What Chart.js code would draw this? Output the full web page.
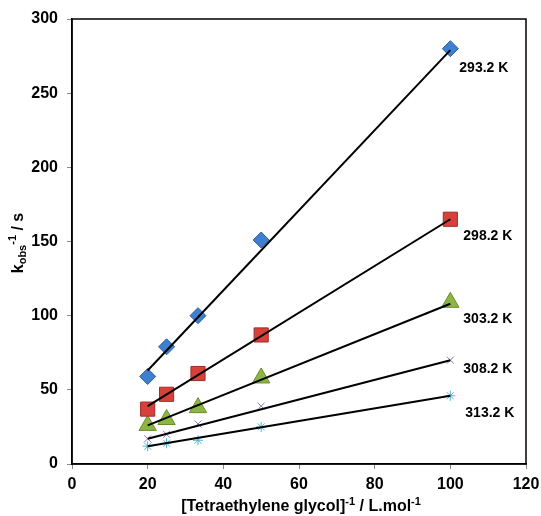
<!DOCTYPE html>
<html>
<head>
<meta charset="utf-8">
<script src="https://cdn.jsdelivr.net/npm/chart.js@4.4.1/dist/chart.umd.min.js"></script>
<style>
  html, body { margin: 0; background: #fff; }
  #wrap { width: 541px; height: 516px; }
</style>
</head>
<body>
<div id="wrap"><canvas id="kineticsChart"></canvas></div>
<script>
// [Tetraethylene glycol]^-1 values (L/mol)
const xValues = [20, 25, 33.3, 50, 100];
// 1/k_obs (s) at each temperature
const k293 = [59, 79, 100, 151, 280];
const k298 = [37, 47, 61, 87, 165];
const k303 = [26, 30, 38, 58, 109];
const k308 = [17, 20, 27, 39, 70];
const k313 = [12, 14, 16, 25, 46];
// fitted straight lines, end points
const fitX = [20, 100];
const fit293 = [63, 279];
const fit298 = [39, 165];
const fit303 = [26, 108];
const fit308 = [17, 70];
const fit313 = [12, 46];
const tempLabels = ['293.2 K', '298.2 K', '303.2 K', '308.2 K', '313.2 K'];

const FONT = 'Arial, "Liberation Sans", sans-serif';
const toPts = (xs, ys) => xs.map((x, i) => ({ x: x, y: ys[i] }));

function markerSet(data, style, fill, border, radius) {
    return {
        data: toPts(xValues, data),
        pointStyle: style,
        pointRadius: radius,
        pointHoverRadius: radius,
        backgroundColor: fill,
        borderColor: border,
        pointBorderWidth: 1,
        showLine: false,
        order: 2
    };
}

function fitSet(data) {
    return {
        data: toPts(fitX, data),
        showLine: true,
        borderColor: '#000',
        borderWidth: 2,
        pointRadius: 0,
        order: 1
    };
}

// draws text pieces with sub/superscripts, left to right from x
function drawRich(ctx, parts, x, y) {
    let cx = x;
    parts.forEach(p => {
        ctx.font = 'bold ' + p.size + 'px ' + FONT;
        ctx.fillText(p.t, cx, y + (p.dy || 0));
        cx += ctx.measureText(p.t).width;
    });
    return cx - x;
}
function richWidth(ctx, parts) {
    let w = 0;
    parts.forEach(p => {
        ctx.font = 'bold ' + p.size + 'px ' + FONT;
        w += ctx.measureText(p.t).width;
    });
    return w;
}

const extras = {
    id: 'extras',
    afterDraw(chart) {
        const { ctx, chartArea: a, scales: { x, y } } = chart;
        ctx.save();
        // frame around plot
        ctx.strokeStyle = '#000';
        ctx.lineWidth = 1.5;
        ctx.strokeRect(a.left, a.top, a.right - a.left, a.bottom - a.top);

        ctx.fillStyle = '#000';
        ctx.textBaseline = 'middle';
        ctx.textAlign = 'left';

        // temperature labels next to the last point of each series
        const lastVals = [k293, k298, k303, k308, k313].map(s => s[s.length - 1]);
        const offs = [[9, 19], [13, 17], [13, 17], [13, 9], [15, 17]];
        lastVals.forEach((v, i) => {
            const px = x.getPixelForValue(xValues[xValues.length - 1]);
            const py = y.getPixelForValue(v);
            ctx.font = 'bold 14px ' + FONT;
            ctx.fillText(tempLabels[i], px + offs[i][0], py + offs[i][1]);
        });

        // x axis title
        const xt = [
            { t: '[Tetraethylene glycol]', size: 16 },
            { t: '-1', size: 11, dy: -5 },
            { t: ' / L.mol', size: 16 },
            { t: '-1', size: 11, dy: -5 }
        ];
        const w = richWidth(ctx, xt);
        drawRich(ctx, xt, (a.left + a.right) / 2 - w / 2 + 2, 507);

        // y axis title (rotated)
        const yt = [
            { t: 'k', size: 16 },
            { t: 'obs', size: 11, dy: 4 },
            { t: '-1', size: 11, dy: -6 },
            { t: ' / s', size: 16 }
        ];
        const wy = richWidth(ctx, yt);
        ctx.translate(19, 243);
        ctx.rotate(-Math.PI / 2);
        drawRich(ctx, yt, -wy / 2, 0);
        ctx.restore();
    }
};

const tickFont = { family: FONT, size: 16, weight: 'bold' };

new Chart(document.getElementById('kineticsChart').getContext('2d'), {
    type: 'scatter',
    data: {
        datasets: [
            markerSet(k293, 'rectRot', '#3E7FCF', '#2D5E9E', 8),
            markerSet(k298, 'rect', '#D8403A', '#A02C28', 10),
            markerSet(k303, 'triangle', '#8DB543', '#6B8C30', 10),
            markerSet(k308, 'crossRot', '#8E78B8', '#8E78B8', 5),
            markerSet(k313, 'star', '#4FB8CC', '#4FB8CC', 5),
            fitSet(fit293),
            fitSet(fit298),
            fitSet(fit303),
            fitSet(fit308),
            fitSet(fit313)
        ]
    },
    options: {
        responsive: true,
        maintainAspectRatio: false,
        animation: false,
        devicePixelRatio: 1,
        layout: { padding: { top: 19, right: 15, left: 0, bottom: 0 } },
        plugins: {
            legend: { display: false },
            tooltip: { enabled: false }
        },
        scales: {
            x: {
                type: 'linear',
                min: 0,
                max: 120,
                ticks: { stepSize: 20, color: '#000', font: tickFont, padding: 6, maxRotation: 0 },
                grid: { drawOnChartArea: false, drawTicks: true, tickLength: 5, color: '#888' },
                border: { display: true, color: '#000', width: 1.5 },
                afterFit(s) { s.height = 52; s.paddingLeft = 0; s.paddingRight = 0; }
            },
            y: {
                min: 0,
                max: 300,
                ticks: { stepSize: 50, color: '#000', font: tickFont, padding: 9 },
                grid: { drawOnChartArea: false, drawTicks: true, tickLength: 5, color: '#888' },
                border: { display: true, color: '#000', width: 1.5 },
                afterFit(s) { s.width = 72; s.paddingTop = 0; s.paddingBottom = 0; }
            }
        }
    },
    plugins: [extras]
});
</script>
</body>
</html>
